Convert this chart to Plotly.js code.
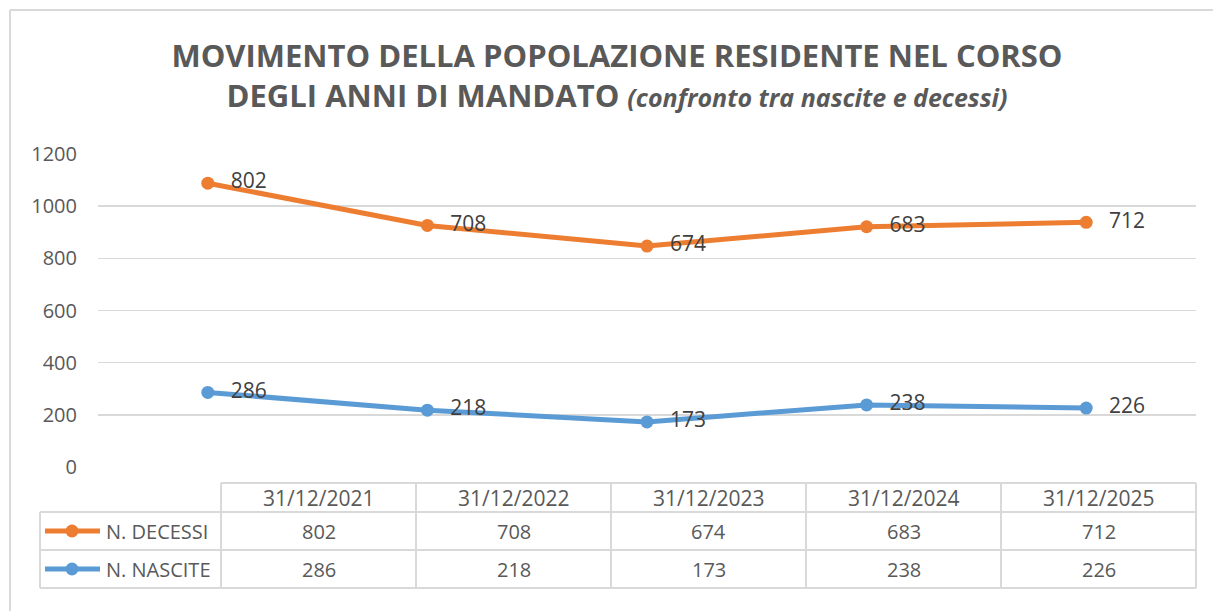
<!DOCTYPE html>
<html><head><meta charset="utf-8">
<script src="https://cdn.plot.ly/plotly-3.0.1.min.js"></script>
<style>html,body{margin:0;padding:0;background:#fff}</style>
</head><body><div id="chart" style="width:1213px;height:611px"></div>
<script>
// ---- data ----
const categories = ['31/12/2021', '31/12/2022', '31/12/2023', '31/12/2024', '31/12/2025'];
const decessi = [802, 708, 674, 683, 712];
const nascite = [286, 218, 173, 238, 226];
const seriesNames = ['N. DECESSI', 'N. NASCITE'];
const yTicks = [0, 200, 400, 600, 800, 1000, 1200];
const titleMain = 'MOVIMENTO DELLA POPOLAZIONE RESIDENTE NEL CORSO<br>DEGLI ANNI DI MANDATO';
const titleSub = '(confronto tra nascite e decessi)';

// ---- styles ----
const ORANGE = '#ED7D31', BLUE = '#5B9BD5', GRID = '#d9d9d9', TXT = '#595959', LBL = '#404040';
const FONT = '"Open Sans", "Noto Sans", sans-serif';
const W = 1213, H = 611;
const PL = 98, PR = 1196, PT = 154, PB = 467;
const px = x => (x - PL) / (PR - PL);
const py = y => (PB - y) / (PB - PT);

const traces = [
  {x: categories, y: nascite, name: seriesNames[1], stackgroup: 'vals', fill: 'none',
   mode: 'lines+markers', line: {color: BLUE, width: 5}, marker: {color: BLUE, size: 13}, hoverinfo: 'skip'},
  {x: categories, y: decessi, name: seriesNames[0], stackgroup: 'vals', fill: 'none',
   mode: 'lines+markers', line: {color: ORANGE, width: 5}, marker: {color: ORANGE, size: 13}, hoverinfo: 'skip'},
  {x: categories, y: nascite, stackgroup: 'labels', fill: 'none', mode: 'markers+text',
   marker: {size: 35, color: 'rgba(0,0,0,0)'}, line: {width: 0},
   text: nascite.map(String), textposition: 'middle right',
   textfont: {family: FONT, size: 21, color: LBL}, hoverinfo: 'skip'},
  {x: categories, y: decessi, stackgroup: 'labels', fill: 'none', mode: 'markers+text',
   marker: {size: 35, color: 'rgba(0,0,0,0)'}, line: {width: 0},
   text: decessi.map(String), textposition: 'middle right',
   textfont: {family: FONT, size: 21, color: LBL}, hoverinfo: 'skip'}
];

// ---- data table under the chart ----
const shapes = [];
const annotations = [];
const tblHeadTop = 483, tblRow1 = 512, tblRow2 = 550, tblBottom = 588;
const tblLegLeft = 40, tblColLeft = 221, tblColW = 195;
const lineStyle = {color: GRID, width: 2};
const hl = (x0, x1, y) => shapes.push({type: 'line', xref: 'paper', yref: 'paper', x0: px(x0), x1: px(x1), y0: py(y), y1: py(y), line: lineStyle});
const vl = (x, y0, y1) => shapes.push({type: 'line', xref: 'paper', yref: 'paper', x0: px(x), x1: px(x), y0: py(y0), y1: py(y1), line: lineStyle});

// outer frame
shapes.push({type: 'line', xref: 'paper', yref: 'paper', x0: px(10), x1: px(10), y0: py(10), y1: py(H + 5), line: {color: GRID, width: 2}});
shapes.push({type: 'line', xref: 'paper', yref: 'paper', x0: px(10), x1: px(W + 5), y0: py(10), y1: py(10), line: {color: GRID, width: 2}});

const tblRight = tblColLeft + tblColW * categories.length;
hl(tblColLeft, tblRight, tblHeadTop);
hl(tblLegLeft, tblRight, tblRow1);
hl(tblLegLeft, tblRight, tblRow2);
hl(tblLegLeft, tblRight, tblBottom);
vl(tblLegLeft, tblRow1, tblBottom);
for (let i = 0; i <= categories.length; i++) vl(tblColLeft + tblColW * i, tblHeadTop, tblBottom);

const cellFont = {family: FONT, size: 20, color: TXT};
const headFont = {family: FONT, size: 21, color: TXT};
const rowsY = [(tblRow1 + tblRow2) / 2, (tblRow2 + tblBottom) / 2];
const rowVals = [decessi, nascite];
const rowColors = [ORANGE, BLUE];
categories.forEach((c, i) => {
  const cx = tblColLeft + tblColW * (i + 0.5);
  annotations.push({xref: 'paper', yref: 'paper', x: px(cx), y: py((tblHeadTop + tblRow1) / 2), text: c,
    showarrow: false, xanchor: 'center', yanchor: 'middle', font: headFont});
  rowVals.forEach((vals, r) => {
    annotations.push({xref: 'paper', yref: 'paper', x: px(cx), y: py(rowsY[r]), text: String(vals[i]),
      showarrow: false, xanchor: 'center', yanchor: 'middle', font: cellFont});
  });
});
seriesNames.forEach((n, r) => {
  const y = rowsY[r];
  shapes.push({type: 'line', xref: 'paper', yref: 'paper', x0: px(45), x1: px(100), y0: py(y), y1: py(y),
    line: {color: rowColors[r], width: 5}});
  shapes.push({type: 'circle', xref: 'paper', yref: 'paper', xsizemode: 'pixel', ysizemode: 'pixel',
    xanchor: px(72), yanchor: py(y), x0: -6.5, x1: 6.5, y0: -6.5, y1: 6.5,
    fillcolor: rowColors[r], line: {width: 0}});
  annotations.push({xref: 'paper', yref: 'paper', x: px(104), y: py(y), text: n, showarrow: false,
    xanchor: 'left', yanchor: 'middle', font: cellFont});
});

const layout = {
  width: W, height: H,
  margin: {l: PL, r: W - PR, t: PT, b: H - PB, pad: 0},
  paper_bgcolor: '#fff', plot_bgcolor: '#fff',
  showlegend: false,
  title: {
    text: titleMain + ' <i><span style="font-size:25px">' + titleSub + '</span></i>',
    font: {family: FONT, size: 31, color: TXT, weight: 'bold'},
    x: 617 / W, xanchor: 'center', xref: 'container',
    y: 1 - 67 / H, yanchor: 'middle', yref: 'container'
  },
  xaxis: {type: 'category', range: [-0.5, categories.length - 0.5], showgrid: false, showticklabels: false,
    zeroline: false, showline: false, ticks: '', fixedrange: true},
  yaxis: {range: [0, 1200], tickvals: yTicks, ticktext: yTicks.map(String), showgrid: true, gridcolor: GRID, gridwidth: 1.5,
    zeroline: false, showline: false, ticks: '', ticklabelstandoff: 20,
    tickfont: {family: FONT, size: 20, color: TXT}, fixedrange: true},
  shapes: shapes,
  annotations: annotations
};

Plotly.newPlot('chart', traces, layout, {displayModeBar: false, staticPlot: true});
</script>
</body></html>
